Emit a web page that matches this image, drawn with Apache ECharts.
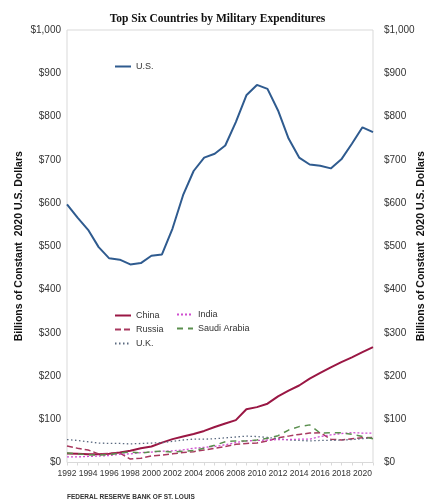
<!DOCTYPE html>
<html>
<head>
<meta charset="utf-8">
<script src="https://cdn.jsdelivr.net/npm/echarts@6/dist/echarts.min.js"></script>
<style>
  html, body { margin: 0; padding: 0; background: #fff; }
  #chart { width: 435px; height: 500px; }
</style>
</head>
<body>
<div id="chart"></div>
<script>
// years 1992 - 2021, billions of constant 2020 US dollars
const years = [];
for (let y = 1992; y <= 2021; y++) years.push(String(y));

const usSpend     = [597, 566, 538, 498, 472, 469, 458, 461, 478, 481, 541, 618, 674, 705, 714, 733, 787, 849, 873, 864, 814, 749, 705, 689, 686, 680, 701, 737, 775, 764];
const chinaSpend  = [21, 20, 19, 19, 20, 23, 27, 33, 37, 46, 54, 60, 66, 73, 82, 90, 98, 123, 128, 136, 153, 166, 178, 194, 207, 220, 232, 243, 255, 267];
const russiaSpend = [38, 33, 29, 20, 21, 22, 8, 10, 15, 17, 20, 23, 25, 29, 33, 37, 42, 44, 45, 50, 57, 61, 65, 68, 69, 54, 52, 55, 57, 58];
const indiaSpend  = [13, 13, 14, 15, 16, 19, 20, 23, 24, 26, 27, 29, 33, 35, 37, 41, 46, 50, 51, 52, 53, 53, 54, 54, 60, 64, 67, 69, 68, 68];
const saudiSpend  = [22, 20, 18, 17, 18, 22, 24, 22, 25, 26, 24, 26, 28, 33, 40, 48, 50, 50, 52, 56, 62, 75, 83, 87, 68, 69, 69, 65, 60, 55];
const ukSpend     = [53, 51, 48, 45, 44, 44, 43, 44, 45, 46, 49, 52, 54, 54, 55, 57, 59, 61, 60, 58, 55, 52, 51, 50, 51, 51, 52, 53, 55, 57];

const chart = echarts.init(document.getElementById('chart'));

function dollars(v) {
  return '$' + String(v).replace(/\B(?=(\d{3})+(?!\d))/g, ',');
}

const axisFont = { fontFamily: 'Liberation Sans', fontSize: 10, color: '#333' };
const legendText = { fontFamily: 'Liberation Sans', fontSize: 9, color: '#333' };

function yAx(pos, gap, margin) {
  return {
    type: 'value',
    position: pos,
    min: 0,
    max: 1000,
    interval: 100,
    name: 'Billions of Constant  2020 U.S. Dollars',
    nameLocation: 'middle',
    nameGap: gap,
    nameMoveOverlap: false,
    nameTextStyle: { fontFamily: 'Liberation Sans', fontSize: 10.5, fontWeight: 'bold', color: '#111' },
    axisLine: { show: false },
    axisTick: { show: false },
    splitLine: { show: false },
    axisLabel: Object.assign({ formatter: dollars, margin: margin }, axisFont)
  };
}

function line(name, data, color, width, type, axis) {
  return {
    name: name,
    type: 'line',
    data: data,
    yAxisIndex: axis || 0,
    symbol: 'none',
    lineStyle: { color: color, width: width, type: type },
    itemStyle: { color: color }
  };
}

// legend shows only the line sample, no marker
const legendBase = {
  itemWidth: 16, itemHeight: 10, padding: 0, textStyle: legendText,
  itemStyle: { opacity: 0 }
};

const option = {
  animation: false,
  title: [
    {
      text: 'Top Six Countries by Military Expenditures',
      left: 'center',
      top: 8,
      textStyle: { fontFamily: 'Liberation Serif', fontSize: 11.5, fontWeight: 'bold', color: '#111' }
    },
    {
      text: 'FEDERAL RESERVE BANK OF ST. LOUIS',
      left: 62,
      top: 489,
      textStyle: { fontFamily: 'Liberation Sans', fontSize: 6.5, fontWeight: 'bold', color: '#333' }
    }
  ],
  grid: {
    left: 67, right: 62, top: 30, bottom: 37.5,
    outerBoundsMode: 'none',
    show: true, borderColor: '#d9d9d9', borderWidth: 1
  },
  legend: [
    Object.assign({ data: ['U.S.'], left: 114, top: 62 }, legendBase),
    Object.assign({ data: ['China', 'Russia', 'U.K.'], orient: 'vertical', left: 114, top: 311, itemGap: 5 }, legendBase),
    Object.assign({ data: ['India', 'Saudi Arabia'], orient: 'vertical', left: 176, top: 310, itemGap: 5 }, legendBase)
  ],
  xAxis: {
    type: 'category',
    data: years,
    boundaryGap: false,
    axisLine: { show: false },
    axisTick: { show: true, interval: 0, length: 3, lineStyle: { color: '#d9d9d9' } },
    axisLabel: Object.assign({ interval: 1, margin: 7, hideOverlap: false, showMinLabel: true }, axisFont,
      { fontSize: 8.5 })
  },
  yAxis: [yAx('left', 42, 6), yAx('right', 43, 11)],
  series: [
    line('U.S.', usSpend, '#2f5b8f', 2, 'solid'),
    line('China', chinaSpend, '#9a1744', 2, 'solid'),
    line('Russia', russiaSpend, '#a8385f', 1.5, [6, 3]),
    line('U.K.', ukSpend, '#5b6a80', 1.3, [1.5, 2.5]),
    line('India', indiaSpend, '#d04fd0', 1.3, [2, 2]),
    line('Saudi Arabia', saudiSpend, '#5a8f4e', 1.5, [6, 5])
  ]
};

chart.setOption(option);
</script>
</body>
</html>
